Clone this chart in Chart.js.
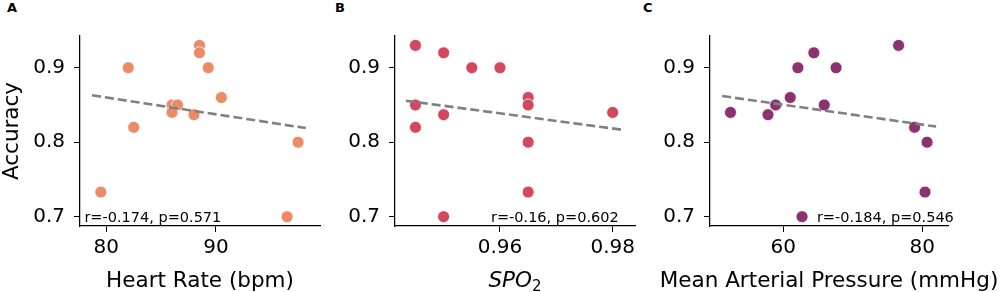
<!DOCTYPE html>
<html>
<head>
<meta charset="UTF-8">
<title>Accuracy vs vital signs</title>
<script src="https://cdn.jsdelivr.net/npm/chart.js"></script>
<style>
    body { margin: 0; background: #fff; width: 1000px; height: 292px; position: relative; overflow: hidden; }
    .panel { position: absolute; top: 0; height: 292px; }
    .tag { position: absolute; top: 0px; font: bold 13px "DejaVu Sans"; color: #000; }
</style>
</head>
<body>
<div class="tag" style="left:7px">A</div>
<div class="tag" style="left:335px">B</div>
<div class="tag" style="left:643px">C</div>
<div class="panel" style="left:0px; width:330px"><canvas id="chartA"></canvas></div>
<div class="panel" style="left:330px; width:315px"><canvas id="chartB"></canvas></div>
<div class="panel" style="left:645px; width:355px"><canvas id="chartC"></canvas></div>
<script>
// data
var accTicks = [0.7, 0.8, 0.9];

var hrX   = [79.5, 82.0, 82.5, 86.0, 86.5, 86.0, 88.0, 88.5, 88.5, 89.3, 90.5, 97.5, 96.5];
var hrAcc = [0.733, 0.90, 0.82, 0.85, 0.85, 0.84, 0.837, 0.93, 0.92, 0.90, 0.86, 0.80, 0.70];
var hrTicks = [80, 90];
var hrFitX = [78.7, 98.2];
var hrFitY = [0.863, 0.819];

var spoX   = [0.945, 0.950, 0.955, 0.960, 0.945, 0.950, 0.945, 0.965, 0.965, 0.980, 0.965, 0.965, 0.950];
var spoAcc = [0.93, 0.92, 0.90, 0.90, 0.85, 0.837, 0.82, 0.86, 0.85, 0.84, 0.80, 0.733, 0.70];
var spoTicks = [0.96, 0.98];
var spoFitX = [0.9433, 0.9816];
var spoFitY = [0.8557, 0.8168];

var mapX   = [52.4, 57.8, 58.9, 61.0, 62.1, 64.4, 67.6, 65.9, 76.6, 78.9, 80.7, 80.4, 62.7];
var mapAcc = [0.84, 0.837, 0.85, 0.86, 0.90, 0.92, 0.90, 0.85, 0.93, 0.82, 0.80, 0.733, 0.70];
var mapTicks = [60, 80];
var mapFitX = [51.2, 82.0];
var mapFitY = [0.862, 0.821];

var FONT = "DejaVu Sans";

// r / p text drawn in data coordinates
var notePlugin = {
    id: "note",
    afterDatasetsDraw: function (chart, args, opts) {
        var ctx = chart.ctx;
        ctx.save();
        ctx.font = "14.5px '" + FONT + "'";
        ctx.fillStyle = "#000";
        ctx.textBaseline = "alphabetic";
        ctx.fillText(opts.text, chart.scales.x.getPixelForValue(opts.x), chart.scales.y.getPixelForValue(opts.y) + 5.5);
        ctx.restore();
    }
};

// x axis title, drawn here so long titles are not squeezed and SPO2 gets a real subscript
var xTitlePlugin = {
    id: "xtitle",
    afterDraw: function (chart, args, opts) {
        var ctx = chart.ctx;
        var area = chart.chartArea;
        var cx = (area.left + area.right) / 2;
        var y = 287;
        ctx.save();
        ctx.fillStyle = "#000";
        ctx.textBaseline = "alphabetic";
        if (opts.sub) {
            ctx.font = "italic 21.5px '" + FONT + "'";
            var w1 = ctx.measureText(opts.text).width;
            ctx.font = "15px '" + FONT + "'";
            var w2 = ctx.measureText(opts.sub).width;
            var x0 = cx - (w1 + w2) / 2;
            ctx.textAlign = "left";
            ctx.font = "italic 21.5px '" + FONT + "'";
            ctx.fillText(opts.text, x0, y);
            ctx.font = "15px '" + FONT + "'";
            ctx.fillText(opts.sub, x0 + w1, y + 4);
        } else {
            ctx.font = "21.5px '" + FONT + "'";
            ctx.textAlign = "center";
            ctx.fillText(opts.text, cx, y);
        }
        ctx.restore();
    }
};

function pts(xs, ys) {
    return xs.map(function (x, i) { return { x: x, y: ys[i] }; });
}

function makePanel(id, cfg) {
    var ctx = document.getElementById(id).getContext("2d");
    return new Chart(ctx, {
        type: "scatter",
        data: {
            datasets: [
                {
                    // regression line (first dataset = drawn on top)
                    type: "line",
                    data: pts(cfg.fitX, cfg.fitY),
                    borderColor: "#808080",
                    borderWidth: 2.6,
                    borderDash: [9, 4],
                    pointRadius: 0,
                    fill: false
                },
                {
                    data: pts(cfg.xs, cfg.ys),
                    backgroundColor: cfg.color,
                    borderColor: "#ffffff",
                    borderWidth: 0.8,
                    pointRadius: 6,
                    pointHoverRadius: 6
                }
            ]
        },
        options: {
            responsive: true,
            maintainAspectRatio: false,
            animation: false,
            layout: { padding: { left: 0, right: cfg.padRight, top: 36, bottom: 0 } },
            plugins: {
                legend: { display: false },
                tooltip: { enabled: false },
                note: { text: cfg.note, x: cfg.noteX, y: 0.7 },
                xtitle: { text: cfg.xTitle, sub: cfg.xSub }
            },
            scales: {
                x: {
                    type: "linear",
                    min: cfg.xMin,
                    max: cfg.xMax,
                    afterBuildTicks: function (s) { s.ticks = cfg.xTicks.map(function (v) { return { value: v }; }); },
                    afterFit: function (s) { s.height = 66; },
                    grid: { drawOnChartArea: false, drawTicks: true, tickLength: 6, color: "#000", lineWidth: 1 },
                    border: { display: true, color: "#000", width: 1.25 },
                    ticks: {
                        color: "#000",
                        padding: 4,
                        font: { family: FONT, size: 20 },
                        callback: function (v) { return String(v); }
                    },
                    title: { display: false }
                },
                y: {
                    type: "linear",
                    min: 0.6875,
                    max: 0.9426,
                    afterBuildTicks: function (s) { s.ticks = accTicks.map(function (v) { return { value: v }; }); },
                    afterFit: function (s) { s.width = cfg.yWidth; },
                    grid: { drawOnChartArea: false, drawTicks: true, tickLength: 6, color: "#000", lineWidth: 1 },
                    border: { display: true, color: "#000", width: 1.25 },
                    ticks: {
                        color: "#000",
                        padding: 9,
                        font: { family: FONT, size: 20 },
                        callback: function (v) { return String(v); }
                    },
                    title: {
                        display: cfg.yTitle !== "",
                        text: cfg.yTitle,
                        color: "#000",
                        padding: { top: 0, bottom: 0 },
                        font: { family: FONT, size: 21.5 }
                    }
                }
            }
        },
        plugins: [notePlugin, xTitlePlugin]
    });
}

makePanel("chartA", {
    xs: hrX, ys: hrAcc, color: "#eb8b68",
    fitX: hrFitX, fitY: hrFitY,
    xMin: 77.6, xMax: 99.5, xTicks: hrTicks,
    xTitle: "Heart Rate (bpm)", xSub: "",
    yTitle: "Accuracy", yWidth: 80, padRight: 10,
    note: "r=-0.174, p=0.571", noteX: 78.0
});

makePanel("chartB", {
    xs: spoX, ys: spoAcc, color: "#d3475f",
    fitX: spoFitX, fitY: spoFitY,
    xMin: 0.94137, xMax: 0.98396, xTicks: spoTicks,
    xTitle: "SPO", xSub: "2",
    yTitle: "", yWidth: 65, padRight: 10,
    note: "r=-0.16, p=0.602", noteX: 0.9584
});

makePanel("chartC", {
    xs: mapX, ys: mapAcc, color: "#8c3270",
    fitX: mapFitX, fitY: mapFitY,
    xMin: 49.45, xMax: 83.71, xTicks: mapTicks,
    xTitle: "Mean Arterial Pressure (mmHg)", xSub: "",
    yTitle: "", yWidth: 65, padRight: 52,
    note: "r=-0.184, p=0.546", noteX: 64.84
});
</script>
</body>
</html>
